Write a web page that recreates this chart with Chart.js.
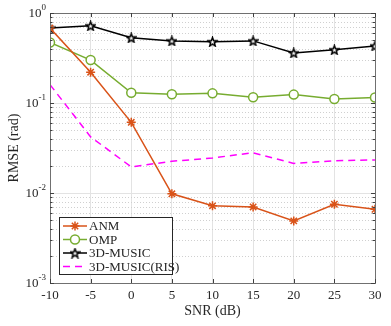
<!DOCTYPE html>
<html>
<head>
<meta charset="utf-8">
<script src="https://cdn.jsdelivr.net/npm/chart.js@4"></script>
<style>
  html, body { margin: 0; padding: 0; background: #fff; }
  #wrap { width: 391px; height: 326px; }
</style>
</head>
<body>
<div id="wrap"><canvas id="rmseChart" width="391" height="326"></canvas></div>
<script>
// SNR values (dB)
const snr = [-10, -5, 0, 5, 10, 15, 20, 25, 30];

// RMSE (rad) per method
const anm = [0.68, 0.22, 0.061, 0.0098, 0.0072, 0.0070, 0.0049, 0.0075, 0.0066];
const omp = [0.47, 0.30, 0.13, 0.125, 0.128, 0.116, 0.124, 0.111, 0.115];
const music3d = [0.68, 0.72, 0.53, 0.49, 0.48, 0.49, 0.36, 0.39, 0.43];
const musicRis = [0.16, 0.042, 0.0195, 0.0225, 0.0245, 0.028, 0.0213, 0.0228, 0.0233];

const xTicks = [-10, -5, 0, 5, 10, 15, 20, 25, 30];
const yDecades = [-3, -2, -1, 0];

const FONT = '"Liberation Serif", "Times New Roman", serif';
const TXT = '#262626';

// pentagram marker for 3D-MUSIC
function makeStar(size) {
  const c = document.createElement('canvas');
  c.width = size; c.height = size;
  const g = c.getContext('2d');
  const cx = size / 2, cy = size / 2 + 0.5, R = size / 2 - 0.8, r = R * 0.42;
  g.beginPath();
  for (let i = 0; i < 10; i++) {
    const rad = i % 2 === 0 ? R : r;
    const a = -Math.PI / 2 + i * Math.PI / 5;
    const px = cx + rad * Math.cos(a), py = cy + rad * Math.sin(a);
    if (i === 0) g.moveTo(px, py); else g.lineTo(px, py);
  }
  g.closePath();
  g.fillStyle = '#fff';
  g.fill();
  g.lineWidth = 1.5;
  g.strokeStyle = '#000';
  g.stroke();
  return c;
}
const starImg = makeStar(11);

function toPts(arr) {
  return snr.map((x, i) => ({ x: x, y: arr[i] }));
}

const datasets = [
  {
    label: 'ANM', data: toPts(anm),
    borderColor: '#D95319', backgroundColor: '#D95319',
    borderWidth: 1.5, pointStyle: 'star', pointRadius: 4.5,
    pointBorderWidth: 1.5, pointBorderColor: '#D95319'
  },
  {
    label: 'OMP', data: toPts(omp),
    borderColor: '#77AC30', backgroundColor: '#fff',
    borderWidth: 1.5, pointStyle: 'circle', pointRadius: 4.5,
    pointBorderWidth: 1.5
  },
  {
    label: '3D-MUSIC', data: toPts(music3d),
    borderColor: '#000', backgroundColor: '#000',
    borderWidth: 1.5, pointStyle: starImg
  },
  {
    label: '3D-MUSIC(RIS)', data: toPts(musicRis),
    borderColor: '#FF00FF', backgroundColor: '#FF00FF',
    borderWidth: 1.5, borderDash: [7, 5], pointRadius: 0
  }
];

// minor grid, box, inward ticks, superscript labels, titles and legend
const extras = {
  id: 'extras',
  beforeDatasetsDraw(chart) {
    const { ctx, chartArea: a, scales } = chart;
    const y = scales.y;
    ctx.save();
    ctx.strokeStyle = '#d0d0d0';
    ctx.lineWidth = 1;
    ctx.setLineDash([1, 2]);
    yDecades.forEach(d => {
      if (d === 0) return;
      for (let m = 2; m <= 9; m++) {
        const py = Math.round(y.getPixelForValue(m * Math.pow(10, d))) + 0.5;
        ctx.beginPath();
        ctx.moveTo(a.left, py);
        ctx.lineTo(a.right, py);
        ctx.stroke();
      }
    });
    ctx.restore();
  },
  afterDraw(chart) {
    const { ctx, chartArea: a, scales } = chart;
    const x = scales.x, y = scales.y;
    ctx.save();
    // axes box
    ctx.strokeStyle = '#707070';
    ctx.lineWidth = 1;
    ctx.strokeRect(Math.round(a.left) + 0.5, Math.round(a.top) + 0.5,
      Math.round(a.right - a.left), Math.round(a.bottom - a.top));
    // inward ticks
    ctx.strokeStyle = '#404040';
    ctx.beginPath();
    xTicks.forEach(v => {
      const px = Math.round(x.getPixelForValue(v)) + 0.5;
      ctx.moveTo(px, a.bottom); ctx.lineTo(px, a.bottom - 4);
      ctx.moveTo(px, a.top); ctx.lineTo(px, a.top + 4);
    });
    yDecades.forEach(d => {
      for (let m = 1; m <= 9; m++) {
        if (d === 0 && m > 1) break;
        const py = Math.round(y.getPixelForValue(m * Math.pow(10, d))) + 0.5;
        const len = m === 1 ? 4 : 2.5;
        ctx.moveTo(a.left, py); ctx.lineTo(a.left + len, py);
        ctx.moveTo(a.right, py); ctx.lineTo(a.right - len, py);
      }
    });
    ctx.stroke();

    // y tick labels 10^n
    ctx.fillStyle = TXT;
    ctx.textBaseline = 'middle';
    yDecades.forEach(d => {
      const py = y.getPixelForValue(Math.pow(10, d));
      const exp = String(d);
      ctx.font = '9px ' + FONT;
      const ew = ctx.measureText(exp).width;
      ctx.textAlign = 'right';
      ctx.fillText(exp, a.left - 4, py - 5);
      ctx.font = '13px ' + FONT;
      ctx.fillText('10', a.left - 4 - ew, py + 1);
    });

    // axis titles
    ctx.font = '14px ' + FONT;
    ctx.textAlign = 'center';
    ctx.textBaseline = 'middle';
    ctx.fillText('SNR (dB)', (a.left + a.right) / 2, 311);
    ctx.save();
    ctx.translate(14, (a.top + a.bottom) / 2);
    ctx.rotate(-Math.PI / 2);
    ctx.fillText('RMSE (rad)', 0, 0);
    ctx.restore();

    // legend
    const lx = 59.5, ly = 217.5, lw = 113, lh = 57;
    ctx.fillStyle = '#fff';
    ctx.fillRect(lx, ly, lw, lh);
    ctx.strokeStyle = '#262626';
    ctx.lineWidth = 1;
    ctx.strokeRect(lx, ly, lw, lh);
    chart.data.datasets.forEach((ds, i) => {
      const cy = 226 + i * 13.5;
      ctx.save();
      ctx.strokeStyle = ds.borderColor;
      ctx.lineWidth = ds.borderWidth;
      ctx.setLineDash(ds.borderDash || []);
      ctx.beginPath();
      ctx.moveTo(63, cy); ctx.lineTo(87, cy);
      ctx.stroke();
      ctx.setLineDash([]);
      if (ds.pointRadius !== 0) {
        ctx.fillStyle = ds.backgroundColor;
        ctx.strokeStyle = ds.borderColor;
        ctx.lineWidth = ds.pointBorderWidth || 1.5;
        Chart.helpers.drawPoint(ctx, {
          pointStyle: ds.pointStyle, radius: ds.pointRadius || 4.5,
          rotation: 0, borderWidth: ds.pointBorderWidth || 1.5
        }, 75, cy);
      }
      ctx.restore();
      ctx.fillStyle = TXT;
      ctx.font = '13px ' + FONT;
      ctx.textAlign = 'left';
      ctx.textBaseline = 'middle';
      ctx.fillText(ds.label, 89, cy + 1);
    });
    ctx.restore();
  }
};

new Chart(document.getElementById('rmseChart'), {
  type: 'line',
  data: { datasets: datasets },
  options: {
    responsive: false,
    animation: false,
    layout: { padding: { top: 13, right: 16, left: 0, bottom: 0 } },
    plugins: { legend: { display: false }, tooltip: { enabled: false } },
    scales: {
      x: {
        type: 'linear', min: -10, max: 30,
        afterBuildTicks: s => { s.ticks = xTicks.map(v => ({ value: v })); },
        afterFit: s => { s.height = 43; },
        grid: { color: '#e3e3e3', drawTicks: false },
        border: { display: false },
        ticks: { color: TXT, padding: 5, font: { family: FONT, size: 13 }, maxRotation: 0 }
      },
      y: {
        type: 'logarithmic', min: 0.001, max: 1,
        afterBuildTicks: s => { s.ticks = yDecades.map(d => ({ value: Math.pow(10, d), major: true })); },
        afterFit: s => { s.width = 50; },
        grid: { color: '#e3e3e3', drawTicks: false },
        border: { display: false },
        ticks: { display: false }
      }
    }
  },
  plugins: [extras]
});
</script>
</body>
</html>
